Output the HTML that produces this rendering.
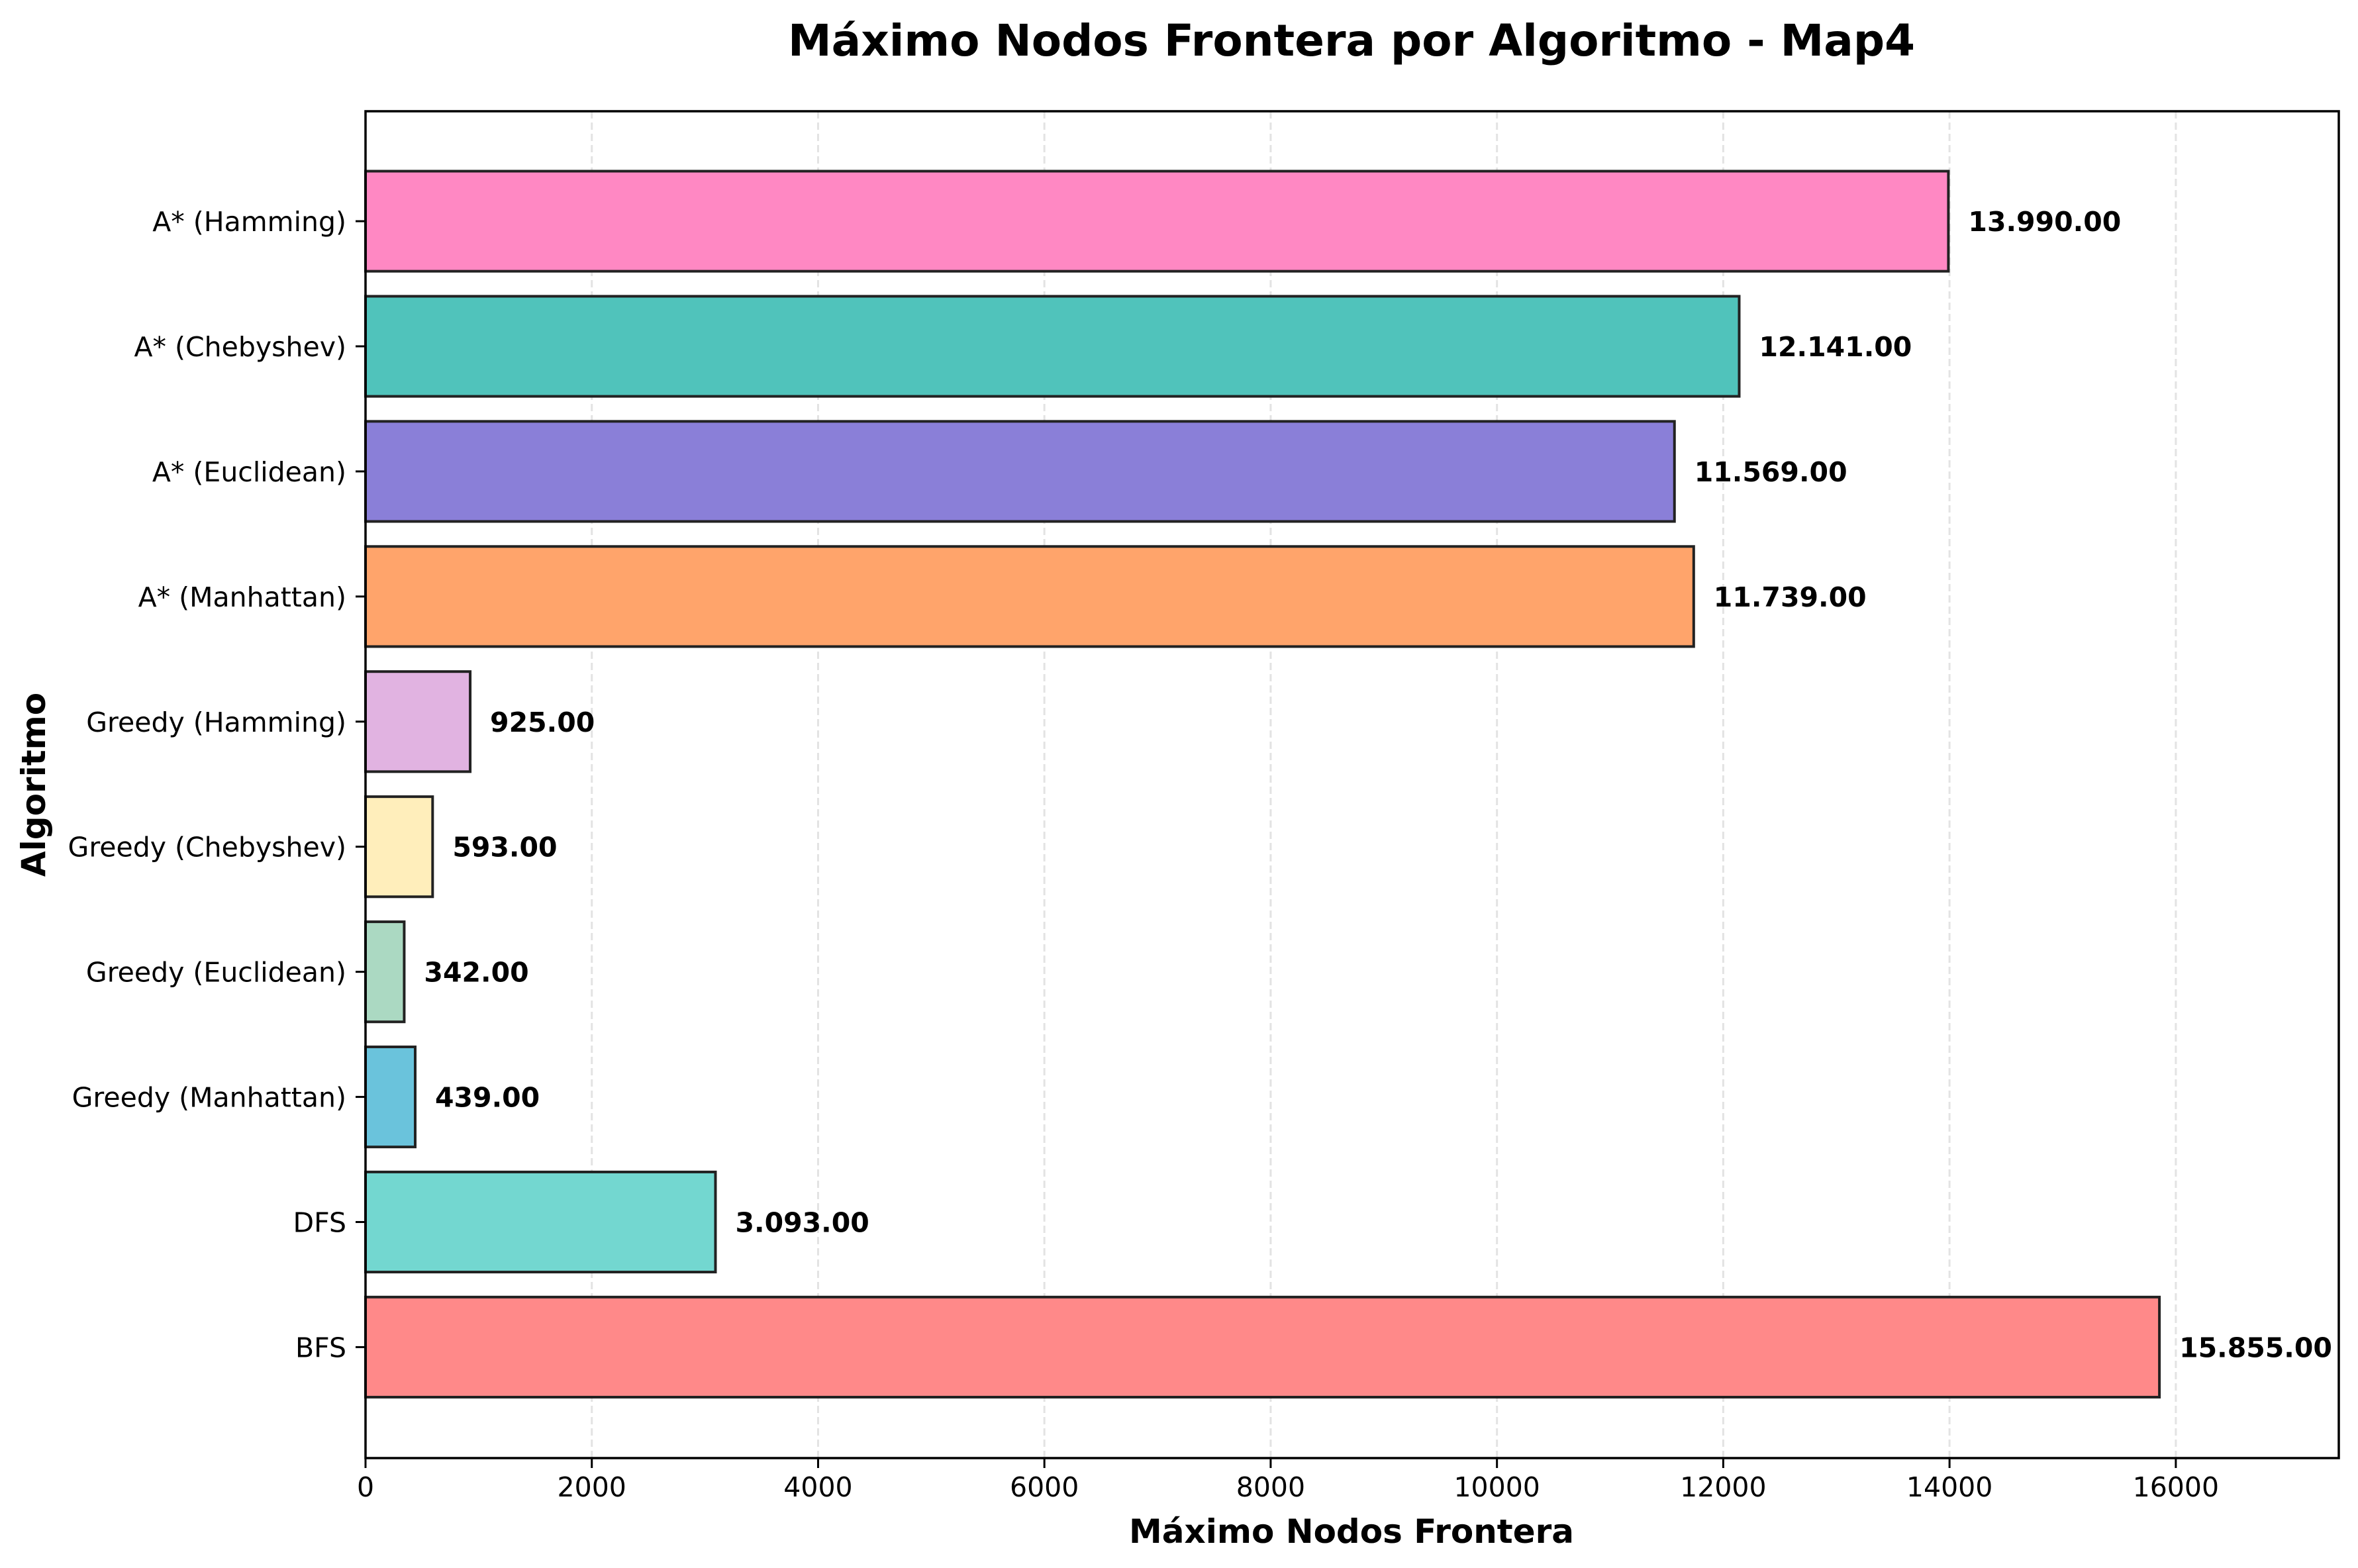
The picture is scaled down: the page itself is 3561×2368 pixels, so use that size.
<!DOCTYPE html>
<html><head><meta charset="utf-8"><style>
html,body{margin:0;padding:0;background:#fff;}
svg{display:block;font-family:"DejaVu Sans","Liberation Sans",sans-serif;}
</style></head><body>
<svg id="chart" width="3561" height="2368" viewBox="0 0 3561 2368" xmlns="http://www.w3.org/2000/svg">
<rect width="3561" height="2368" fill="#fff"/>
<text x="2041" y="84" text-anchor="middle" font-size="66" font-weight="bold">Máximo Nodos Frontera por Algoritmo - Map4</text>
<g id="grid"></g><g id="bars"></g><g id="labels"></g><g id="axes"></g>
<text x="2041" y="2330" text-anchor="middle" font-size="50" font-weight="bold">Máximo Nodos Frontera</text>
<text transform="translate(68,1185) rotate(-90)" text-anchor="middle" font-size="50" font-weight="bold">Algoritmo</text>
</svg>
<script>
const categories = ["BFS","DFS","Greedy (Manhattan)","Greedy (Euclidean)","Greedy (Chebyshev)","Greedy (Hamming)","A* (Manhattan)","A* (Euclidean)","A* (Chebyshev)","A* (Hamming)"];
const values = [15855,3093,439,342,593,925,11739,11569,12141,13990];
const colors = ["#ff8989","#73d7d0","#6ac3dc","#abd9c2","#ffeebb","#e1b3e1","#ffa46b","#8a7fd8","#50c3bb","#ff88c3"];
const xTicks = [0,2000,4000,6000,8000,10000,12000,14000,16000];

const NS="http://www.w3.org/2000/svg";
const L=552,R=3532,T=168,B=2202;
const xMax=Math.max(...values)*1.1;
const yMin=-0.887,yMax=9.879;
function xs(v){return L+(v/xMax)*(R-L);}
function ys(i){return B-(i-yMin)/(yMax-yMin)*(B-T);}
function mk(tag,attrs,parent){const e=document.createElementNS(NS,tag);for(const k in attrs)e.setAttribute(k,attrs[k]);parent.appendChild(e);return e;}
const grid=document.getElementById('grid'),bars=document.getElementById('bars'),labels=document.getElementById('labels'),axes=document.getElementById('axes');
function fmt(v){return v.toFixed(0).replace(/\B(?=(\d{3})+(?!\d))/g,'.')+'.00';}
xTicks.forEach(t=>{
  const x=xs(t);
  if(t>0){const g=mk('line',{x1:x,x2:x,y1:T,y2:B,stroke:'#e3e3e3','stroke-width':3,'stroke-dasharray':'11,6'},grid);
  
  }
  const tk=mk('line',{x1:x,x2:x,y1:B,y2:B+15,stroke:'#000','stroke-width':3},axes);
  
  
  const tl=mk('text',{x:x,y:B+58,'text-anchor':'middle','font-size':41},axes);
  tl.textContent=t;
  
  
});
const h=0.8*(ys(0)-ys(1));
categories.forEach((c,i)=>{
  const y=ys(i);
  const r=mk('rect',{x:L,y:y-h/2,width:xs(values[i])-L,height:h,fill:colors[i],stroke:'#222','stroke-width':4},bars);
  
  
  const v=mk('text',{x:xs(values[i])+30,y:y+15,'font-size':41,'font-weight':'bold'},labels);
  v.textContent=fmt(values[i]);
  
  
  const tk=mk('line',{x1:L-15,x2:L,y1:y,y2:y,stroke:'#000','stroke-width':3},axes);
  
  
  const tl=mk('text',{x:L-29,y:y+15,'text-anchor':'end','font-size':41},axes);
  tl.textContent=c;
  
  
});
const fr=mk('rect',{x:L,y:T,width:R-L,height:B-T,fill:'none',stroke:'#000','stroke-width':3.5},axes);


</script>
</body></html>
